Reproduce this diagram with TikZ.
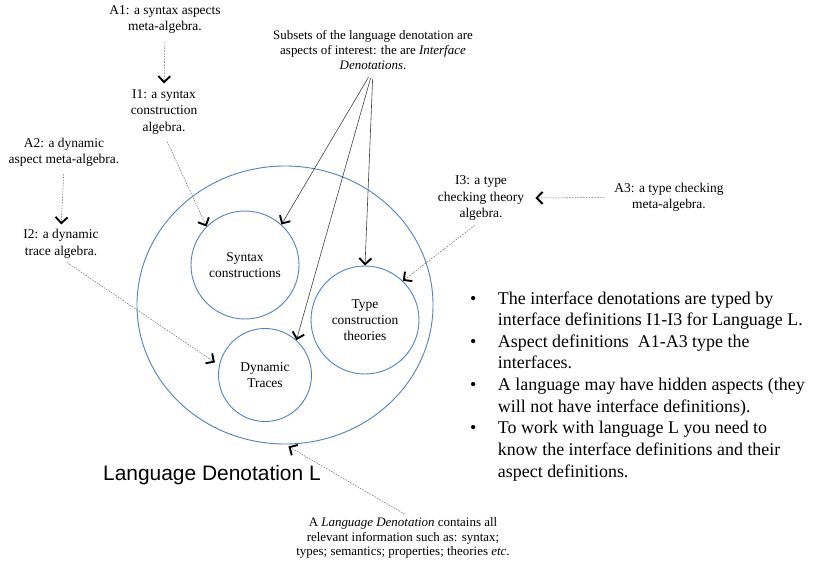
\documentclass[tikz,border=0pt]{standalone}
\usepackage{fontspec}
\setmainfont{Liberation Serif}
\newfontfamily\arialf{Liberation Sans}
\usetikzlibrary{arrows.meta,shapes.geometric}
\definecolor{cblue}{RGB}{79,129,189}
\begin{document}
\begin{tikzpicture}[x=1bp,y=-1bp,
  lbl/.style={align=center, inner sep=0pt, font=\fontsize{13.5}{16.5}\selectfont},
  sml/.style={align=center, inner sep=0pt, font=\fontsize{13}{14.8}\selectfont},
  circ/.style={circle, draw=cblue, line width=0.9bp, inner sep=0pt, align=center, font=\fontsize{13.5}{16}\selectfont},
  vtip/.style={-{Straight Barb[length=6bp,width=12bp,line width=1.9bp,color=black]}},
  dasharr/.style={vtip, black!55, line width=0.55bp, dash pattern=on 1.6bp off 1.2bp},
  solarr/.style={vtip, black!75, line width=0.6bp}
]
\useasboundingbox (0,0) rectangle (817,568);

% containers
\node[ellipse, draw=cblue, line width=0.9bp, minimum width=296bp, minimum height=278bp, inner sep=0pt] (L) at (285,305) {};
\node[circ, minimum size=108bp] (S) at (245,265) {Syntax\\constructions};
\node[circ, minimum size=108bp] (T) at (365,320) {Type\\construction\\theories};
\node[circ, minimum size=93bp] (D) at (265,375) {Dynamic\\Traces};

% labels
\node[lbl] (A1) at (165,19.5) {A1: a syntax aspects\\meta-algebra.};
\node[lbl] (I1) at (164,112) {I1: a syntax\\construction\\algebra.};
\node[lbl] (A2) at (64,152.5) {A2: a dynamic\\aspect meta-algebra.};
\node[lbl] (I2) at (61,244) {I2: a dynamic\\trace algebra.};
\node[sml] (Sub) at (373,50) {Subsets of the language denotation are\\aspects of interest: the are \textit{Interface}\\\textit{Denotations}.};
\node[lbl] (I3) at (481,198) {I3: a type\\checking theory\\algebra.};
\node[lbl] (A3) at (669,197.5) {A3: a type checking\\meta-algebra.};
\node[sml] (Bot) at (403,538) {A \textit{Language Denotation} contains all\\relevant information such as: syntax;\\types; semantics; properties; theories \textit{etc}.};
\node[anchor=base west, inner sep=0pt, font=\arialf\fontsize{21}{25}\selectfont] (LT) at (103,480) {Language Denotation L};

\node[anchor=north west, inner sep=0pt, font=\fontsize{18}{21.7}\selectfont] (B) at (470,288.8) {%
\begin{tabular}{@{}c@{\hspace{21.5bp}}l@{}}
\textbullet & The interface denotations are typed by\\
 & interface definitions I1-I3 for Language L.\\
\textbullet & Aspect definitions~ A1-A3 type the\\
 & interfaces.\\
\textbullet & A language may have hidden aspects (they\\
 & will not have interface definitions).\\
\textbullet & To work with language L you need to\\
 & know the interface definitions and their\\
 & aspect definitions.
\end{tabular}};

% dashed connectors
\draw[dasharr, shorten <=8bp, shorten >=6bp] (A1.south) -- (I1.north);
\draw[dasharr, shorten <=8bp] (I1.south) -- (S.135);
\draw[dasharr, shorten <=7bp, shorten >=5bp] (A2.south) -- (I2.north);
\draw[dasharr, shorten <=7bp, shorten >=5bp] (I2.south) -- (D.168);
\draw[dasharr, shorten <=10bp, shorten >=11bp] (A3.west) -- (I3.east);
\draw[dasharr, shorten <=8bp] (I3.south) -- (T.46);
\draw[dasharr, shorten <=6bp, shorten >=4bp] ([xshift=7bp]Bot.north) -- (L.south);

% solid connectors
\draw[solarr, shorten <=9bp] (Sub.south) -- (S.48);
\draw[solarr, shorten <=9bp] (Sub.south) -- (D.48);
\draw[solarr, shorten <=9bp] (Sub.south) -- (T.north);
\end{tikzpicture}
\end{document}
